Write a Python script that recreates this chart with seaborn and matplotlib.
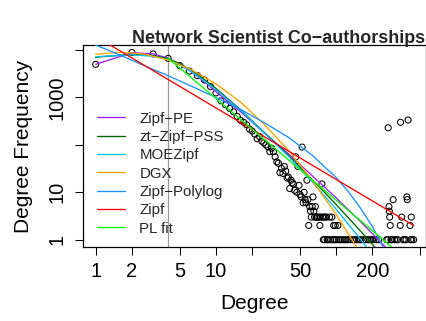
import numpy as np
import matplotlib
matplotlib.use("Agg")
import matplotlib.pyplot as plt
import seaborn as sns
import pandas as pd

sns.set_theme(style="white")
plt.rcParams['font.family'] = ['Liberation Sans', 'DejaVu Sans']

# ---------------- data ----------------
degree = [1, 2, 3, 4, 5, 6, 7, 8, 9, 10, 11, 12, 13, 14, 15, 16, 17, 18, 19, 20,
          21, 22, 23, 24, 25, 26, 27, 28, 29, 30, 31, 32, 33, 34, 35, 36, 37, 38, 39, 40,
          41, 42, 43, 44, 45, 46, 47, 48, 49, 50, 51, 52, 53, 54, 55, 56, 57, 58, 59, 60,
          61, 62, 63, 64, 65, 66, 67, 68, 69, 70, 72, 73, 74, 76, 77, 78, 79, 80, 81, 83,
          84, 86, 88, 90, 92, 94, 95, 97, 98, 100, 103, 105, 108, 112, 116, 120, 125, 130,
          137, 142, 148, 155, 160, 168, 175, 183, 190, 198, 205, 215, 225, 262, 268, 270,
          274, 276, 278, 281, 285, 290, 297, 305, 315, 325, 340, 342, 350, 360, 370, 380,
          386, 389, 395, 410, 415, 420, 425, 440]
frequency = [5000, 8900, 8300, 6700, 4700, 3600, 2900, 2350, 1700, 1250, 850, 700, 590, 500, 400, 330, 300, 265, 215, 195,
             168, 135, 150, 120, 110, 100, 91, 72, 85, 72, 56, 44, 41, 26, 32, 25, 35, 28, 20, 21,
             12, 18, 16, 15, 11, 56, 10, 35, 14, 9, 8, 90, 6, 10, 7, 6, 18, 7, 2, 5,
             4, 3, 5, 8, 4, 3, 5, 3, 3, 3, 3, 2, 3, 15, 3, 1, 3, 1, 3, 3,
             1, 1, 3, 1, 3, 1, 2, 1, 2, 1, 2, 1, 1, 1, 1, 1, 1, 1,
             1, 1, 1, 1, 1, 1, 1, 1, 1, 1, 1, 1, 1, 1, 1, 230,
             5, 4, 3, 2, 1, 1, 7, 1, 1, 1, 2, 300, 3, 1, 1, 1,
             8, 7, 335, 2, 1, 3, 1, 1]

# fitted curves: degree knots and log10(expected frequency)
zipf_pe_deg = [1, 2, 3, 4, 5, 6, 7, 8, 9, 10, 16, 25, 40, 63, 100, 158, 251, 316]
zipf_pe_log = [3.70, 3.945, 3.92, 3.83, 3.69, 3.57, 3.45, 3.33, 3.22, 3.12, 2.70, 2.26, 1.81, 1.35, 0.88, 0.39, -0.13, -0.40]

pss_deg = [1, 2, 3, 4, 5, 6.3, 7.9, 10, 16, 25, 40, 63, 100, 158, 251]
pss_log = [3.85, 3.91, 3.885, 3.82, 3.715, 3.57, 3.39, 3.19, 2.74, 2.27, 1.78, 1.27, 0.74, 0.19, -0.38]

moe_deg = [1, 2, 3, 4, 5, 6.3, 7.9, 10, 16, 25, 40, 63, 100, 158, 251]
moe_log = [3.86, 3.90, 3.87, 3.80, 3.69, 3.54, 3.36, 3.16, 2.73, 2.26, 1.76, 1.22, 0.64, 0.02, -0.64]

dgx_deg = [1, 1.6, 2.5, 4, 6.3, 10, 16, 25, 40, 63, 100, 158, 251]
dgx_log = [3.91, 3.956, 3.917, 3.792, 3.582, 3.286, 2.905, 2.439, 1.887, 1.250, 0.528, -0.280, -1.173]

polylog_deg = [1, 1.6, 2.5, 4, 6.3, 10, 16, 25, 40, 63, 100, 126, 158, 200, 251, 316]
polylog_log = [4.105, 3.893, 3.678, 3.459, 3.234, 3.0, 2.749, 2.474, 2.159, 1.783, 1.307, 1.015, 0.675, 0.274, -0.205, -0.79]

zipf_deg = [1, 440]
zipf_log = [4.288, 0.30]

pl_deg = [4, 440]
pl_log = [3.83, -0.546]

x_min_pl = 4

series_names = ["Zipf\u2212PE", "zt\u2212Zipf\u2212PSS", "MOEZipf", "DGX", "Zipf\u2212Polylog", "Zipf", "PL fit"]
series_colors = ["#A020F0", "#006400", "#00BFFF", "#FFA500", "#1E90FF", "#FF0000", "#00FF00"]
series_deg = [zipf_pe_deg, pss_deg, moe_deg, dgx_deg, polylog_deg, zipf_deg, pl_deg]
series_log = [zipf_pe_log, pss_log, moe_log, dgx_log, polylog_log, zipf_log, pl_log]

x_ticks = [1, 2, 5, 10, 20, 50, 100, 200, 500]
x_tick_labels = ["1", "2", "5", "10", "", "50", "", "200", ""]
y_ticks = [1, 10, 100, 1000, 10000]
y_tick_labels = ["1", "10", "", "1000", ""]

# ---------------- figure ----------------
W, H = 427, 321
fig = plt.figure(figsize=(W / 100, H / 100), dpi=100)
ax = fig.add_axes([83 / W, (H - 247.2) / H, (426.4 - 83) / W, (247.2 - 45) / H])
ax.set_xscale("log")
ax.set_yscale("log")

pts = pd.DataFrame({"degree": degree, "frequency": frequency})
sns.scatterplot(data=pts, x="degree", y="frequency", ax=ax, marker="o",
                facecolor="none", edgecolor="black", s=19, linewidth=0.75, zorder=2)

for name, col, dx, ly in zip(series_names, series_colors, series_deg, series_log):
    df = pd.DataFrame({"degree": dx, "fit": np.power(10.0, ly)})
    sns.lineplot(data=df, x="degree", y="fit", ax=ax, color=col, lw=0.95,
                 label=name, sort=False, estimator=None, zorder=3)

ax.axvline(x_min_pl, color="#999999", lw=0.9, zorder=1)

# R-style limits: 4% padding in log space
lx = np.log10([min(degree), max(degree)])
ly = np.log10([min(frequency), max(frequency)])
px = 0.04 * (lx[1] - lx[0])
py = 0.04 * (ly[1] - ly[0])
ax.set_xlim(10 ** (lx[0] - px), 10 ** (lx[1] + px))
ax.set_ylim(10 ** (ly[0] - py), 10 ** (ly[1] + py))

ax.set_xticks(x_ticks)
ax.set_xticklabels(x_tick_labels)
ax.set_yticks(y_ticks)
ax.set_yticklabels(y_tick_labels, rotation=90, va="center")
ax.minorticks_off()
ax.tick_params(axis="both", which="major", length=6, width=0.75, color="black",
               labelsize=14.5, labelcolor="black", pad=4.3, direction="out",
               bottom=True, left=True)
ax.tick_params(axis="y", pad=5.8)

for sp in ax.spines.values():
    sp.set_color("black")
    sp.set_linewidth(0.9)
    sp.set_visible(True)

ax.set_xlabel("Degree", fontsize=15, color="black")
ax.set_ylabel("Degree Frequency", fontsize=15, color="black")
ax.xaxis.set_label_coords(0.5, -0.23)
ax.yaxis.set_label_coords(-0.1447, 0.5)

leg = ax.legend(loc="upper left", bbox_to_anchor=(96.7 / W, 1 - 111.5 / H),
                bbox_transform=fig.transFigure, frameon=False, fontsize=10.8,
                handlelength=1.89, handletextpad=0.95, labelspacing=0.29,
                borderpad=0, borderaxespad=0)

fig.text(279 / W, 1 - 43 / H, "Network Scientist Co\u2212authorships",
         ha="center", va="baseline", fontsize=12.9, fontweight="bold")

fig.savefig("out.png", dpi=100)
